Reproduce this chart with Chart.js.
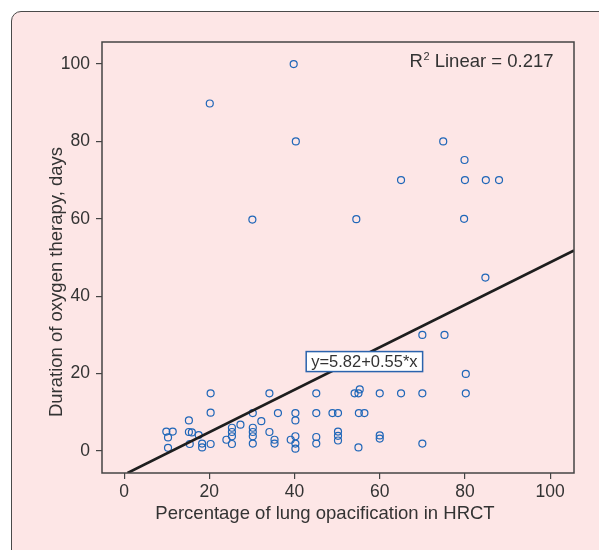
<!DOCTYPE html>
<html>
<head>
<meta charset="utf-8">
<script src="https://cdn.jsdelivr.net/npm/chart.js@4.4.1/dist/chart.umd.min.js"></script>
<style>
  html, body { margin: 0; padding: 0; background: #ffffff; }
  #wrap { position: relative; width: 599px; height: 550px; overflow: hidden; }
  #panel {
    position: absolute; left: 11px; top: 11px; width: 620px; height: 580px;
    background: #fde6e6; border: 1.5px solid #4a4a4a; border-radius: 10px;
  }
  #oxyChart { position: absolute; left: 0; top: 0; }
</style>
</head>
<body>
<div id="wrap">
  <div id="panel"></div>
  <canvas id="oxyChart" width="599" height="550"></canvas>
</div>
<script>
// Pourcentage d'opacification pulmonaire (HRCT) et durée d'oxygénothérapie (jours)
const opacification = [
  39.8, 20.1, 40.3, 74.9, 79.9, 65, 80, 84.9, 88, 30.1, 54.5, 79.8, 84.8, 70, 75.2, 80.2,
  20.3, 34.1, 45.1, 54.1, 55, 55.3, 60, 65, 70, 80.2,
  20.3, 30.2, 36.1, 40.2, 45.1, 48.9, 50.2, 55.1, 56.4,
  15.2, 32.2, 40.2, 27.3, 25.3, 30.2,
  9.9, 11.4, 15.2, 15.9, 25.3, 30.2, 34.1, 50.2,
  17.5, 60, 10.3, 25.3, 30.2, 40.2, 45.1, 50.2,
  60, 24, 35.3, 39.1, 50.2,
  15.4, 18.3, 20.3, 25.3, 30.2, 35.3, 40.2, 45.1, 70,
  10.3, 18.3, 40.2, 55
];
const oxygenDays = [
  100, 89.8, 80, 80, 75.2, 70, 70, 70, 70, 59.8, 59.9, 60, 44.8, 30, 30, 19.9,
  14.9, 14.9, 14.9, 14.9, 14.9, 15.9, 14.9, 14.9, 14.9, 14.9,
  9.9, 9.8, 9.8, 9.8, 9.8, 9.8, 9.8, 9.8, 9.8,
  7.9, 7.7, 7.9, 6.8, 6.0, 6.0,
  5.0, 5.0, 4.9, 4.8, 4.9, 4.9, 4.9, 5.0,
  4.1, 4.0, 3.5, 3.8, 3.8, 3.8, 3.6, 3.9,
  3.2, 2.9, 2.9, 2.9, 2.7,
  1.8, 1.9, 1.8, 1.8, 1.9, 1.9, 1.9, 1.9, 1.9,
  0.8, 0.9, 0.6, 0.9
];

// Droite de régression telle que tracée (extrémités)
const fitX = [0.8, 105.6];
const fitY = [-5.7, 51.8];

const xTicks = [0, 20, 40, 60, 80, 100];
const yTicks = [0, 20, 40, 60, 80, 100];

const xTitle = "Percentage of lung opacification in HRCT";
const yTitle = "Duration of oxygen therapy, days";
const r2Label = ["R", "2", " Linear = 0.217"];
const fitLabel = "y=5.82+0.55*x";

const FONT = '"Liberation Sans", Arial, Helvetica, sans-serif';
const TEXT = "#333333";

const points = opacification.map((x, i) => ({ x: x, y: oxygenDays[i] }));
const fitPoints = fitX.map((x, i) => ({ x: x, y: fitY[i] }));

// Cadre, titres des axes et étiquettes
const extras = {
  id: "extras",
  afterDatasetsDraw(chart) {
    const { ctx, chartArea: a, scales } = chart;
    ctx.save();

    // cadre complet
    ctx.strokeStyle = "#444";
    ctx.lineWidth = 1.5;
    ctx.strokeRect(a.left, a.top, a.right - a.left, a.bottom - a.top);

    ctx.fillStyle = TEXT;
    ctx.font = "18.5px " + FONT;
    ctx.textBaseline = "middle";

    // titre x
    ctx.textAlign = "center";
    ctx.fillText(xTitle, 325, 514);

    // titre y
    ctx.save();
    ctx.translate(56.5, 282);
    ctx.rotate(-Math.PI / 2);
    ctx.fillText(yTitle, 0, 0);
    ctx.restore();

    // R² Linear
    ctx.textAlign = "left";
    ctx.font = "18.5px " + FONT;
    const w0 = ctx.measureText(r2Label[0]).width;
    ctx.font = "11px " + FONT;
    const w1 = ctx.measureText(r2Label[1]).width;
    ctx.font = "18.5px " + FONT;
    const w2 = ctx.measureText(r2Label[2]).width;
    let rx = a.right - 21 - (w0 + w1 + w2);
    const ry = 62;
    ctx.fillText(r2Label[0], rx, ry);
    rx += w0 + 0.5;
    ctx.font = "11px " + FONT;
    ctx.fillText(r2Label[1], rx, ry - 5);
    rx += w1;
    ctx.font = "18.5px " + FONT;
    ctx.fillText(r2Label[2], rx, ry);

    // boîte de l'équation
    const cx = scales.x.getPixelForValue(56.4);
    const cy = scales.y.getPixelForValue(23.1);
    ctx.font = "16.5px " + FONT;
    const tw = ctx.measureText(fitLabel).width;
    const bw = tw + 10, bh = 20;
    ctx.fillStyle = "#ffffff";
    ctx.fillRect(cx - bw / 2, cy - bh / 2, bw, bh);
    ctx.strokeStyle = "#2b63ad";
    ctx.lineWidth = 1.5;
    ctx.strokeRect(cx - bw / 2, cy - bh / 2, bw, bh);
    ctx.fillStyle = TEXT;
    ctx.textAlign = "center";
    ctx.fillText(fitLabel, cx, cy + 1);

    ctx.restore();
  }
};

const ctx = document.getElementById("oxyChart").getContext("2d");

new Chart(ctx, {
  data: {
    datasets: [
      {
        type: "line",
        data: fitPoints,
        borderColor: "#1e1e1e",
        borderWidth: 2.6,
        pointRadius: 0,
        fill: false
      },
      {
        type: "scatter",
        data: points,
        pointStyle: "circle",
        pointRadius: 3.5,
        pointBorderWidth: 1.2,
        pointBackgroundColor: "rgba(0,0,0,0)",
        pointBorderColor: "#1f66b8"
      }
    ]
  },
  options: {
    responsive: false,
    devicePixelRatio: 1,
    animation: false,
    layout: { padding: { left: 0, top: 42, right: 25, bottom: 0 } },
    plugins: { legend: { display: false }, tooltip: { enabled: false } },
    scales: {
      x: {
        type: "linear",
        min: -5.2,
        max: 105.6,
        afterBuildTicks: s => { s.ticks = xTicks.map(v => ({ value: v })); },
        afterFit: s => { s.height = 77; },
        grid: { display: true, drawOnChartArea: false, drawTicks: true, tickLength: 6, color: "#444", lineWidth: 1.2 },
        border: { display: false },
        ticks: { color: TEXT, font: { family: FONT, size: 17.5 }, padding: 3, maxRotation: 0 }
      },
      y: {
        type: "linear",
        min: -5.7,
        max: 105.7,
        afterBuildTicks: s => { s.ticks = yTicks.map(v => ({ value: v })); },
        afterFit: s => { s.width = 102; },
        grid: { display: true, drawOnChartArea: false, drawTicks: true, tickLength: 6, color: "#444", lineWidth: 1.2 },
        border: { display: false },
        ticks: { color: TEXT, font: { family: FONT, size: 17.5 }, padding: 6 }
      }
    }
  },
  plugins: [extras]
});
</script>
</body>
</html>
